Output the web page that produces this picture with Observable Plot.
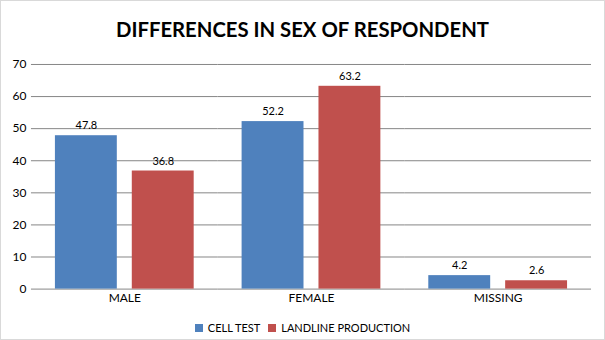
<!DOCTYPE html>
<html><head><meta charset="utf-8">
<script src="https://cdn.jsdelivr.net/npm/d3@7"></script>
<script src="https://cdn.jsdelivr.net/npm/@observablehq/plot@0.6"></script>
<style>
body{margin:0;background:#fff;}
#wrap{width:603px;height:338px;border:1px solid #d9d9d9;background:#fff;font-family:Lato,"Liberation Sans",sans-serif;position:relative;overflow:hidden;}
#title{position:absolute;top:15px;left:0;width:100%;text-align:center;font-weight:bold;font-size:20.3px;color:#000;line-height:26px;}
#chart{position:absolute;top:49px;left:-1px;}
#legend{position:absolute;top:320px;left:0;width:100%;text-align:center;font-size:11px;color:#000;line-height:14px;}
.item{display:inline-flex;align-items:center;margin:0 4px;}
.sw{display:inline-block;width:8px;height:8px;margin-right:5px;}
</style></head>
<body>
<div id="wrap">
  <div id="title">DIFFERENCES IN SEX OF RESPONDENT</div>
  <div id="chart"></div>
  <div id="legend"></div>
</div>
<script>
const categories = ["MALE", "FEMALE", "MISSING"];
const series = ["CELL TEST", "LANDLINE PRODUCTION"];
const cellTest = [47.8, 52.2, 4.2];
const landline = [36.8, 63.2, 2.6];
const yTicks = [0, 10, 20, 30, 40, 50, 60, 70];
const colors = ["#4f81bd", "#c0504d"];

const data = [];
categories.forEach((c, i) => {
  data.push({cat: c, series: series[0], value: cellTest[i]});
  data.push({cat: c, series: series[1], value: landline[i]});
});

const chart = Plot.plot({
  width: 605,
  height: 262,
  marginLeft: 31,
  marginRight: 13,
  marginTop: 14,
  marginBottom: 23,
  style: {fontFamily: "Lato, 'Liberation Sans', sans-serif", fontSize: "12px", color: "#000", background: "transparent"},
  fx: {domain: categories, padding: 0, label: null, axis: "bottom", tickSize: 0, tickPadding: 4},
  x: {domain: series, paddingInner: 0.192, paddingOuter: 0.298, axis: null},
  y: {domain: [0, 70], ticks: yTicks, label: null, tickSize: 0, tickPadding: 5},
  color: {domain: series, range: colors},
  marks: [
    Plot.ruleY(yTicks, {stroke: "#868686", strokeWidth: 1}),
    Plot.barY(data, {fx: "cat", x: "series", y: "value", fill: "series"}),
    Plot.text(data, {fx: "cat", x: "series", y: "value", text: d => d.value.toFixed(1), dy: -10, fontSize: 11, fill: "#000"})
  ]
});
document.getElementById("chart").appendChild(chart);

const legend = document.getElementById("legend");
series.forEach((s, i) => {
  const item = document.createElement("span");
  item.className = "item";
  const sw = document.createElement("span");
  sw.className = "sw";
  sw.style.background = colors[i];
  item.appendChild(sw);
  item.appendChild(document.createTextNode(s));
  legend.appendChild(item);
});
</script>
</body></html>
